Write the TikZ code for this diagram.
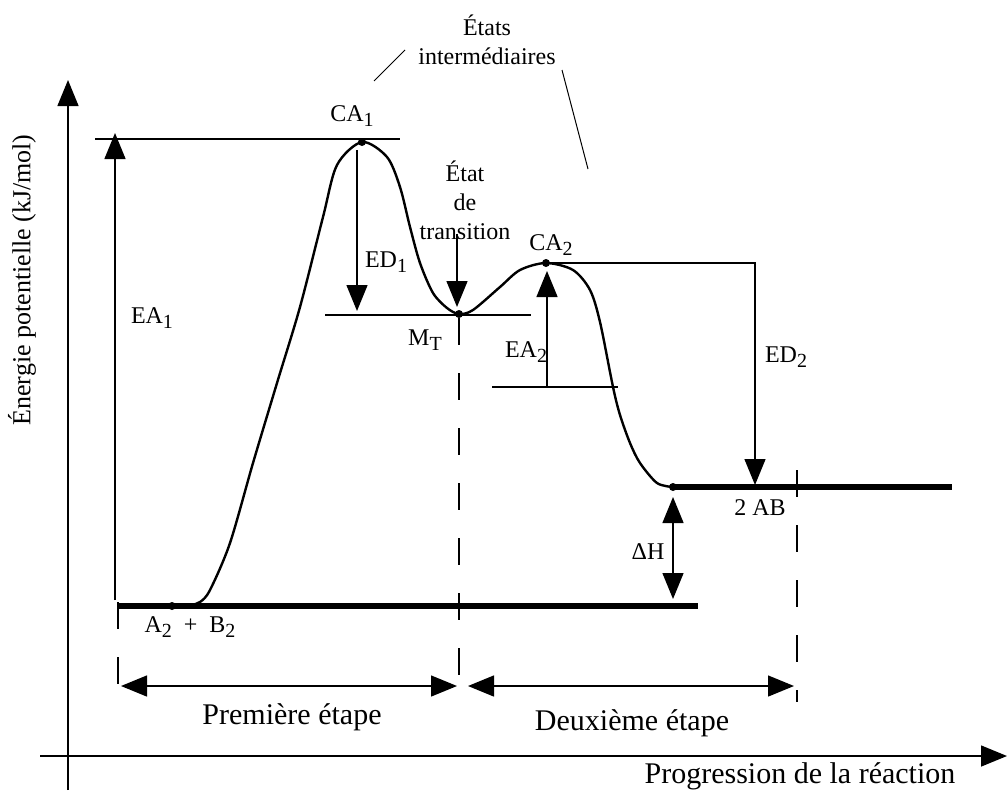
\documentclass[tikz,border=0pt]{standalone}
\usepackage{fontspec}
\setmainfont{Liberation Serif}
\usetikzlibrary{arrows.meta}

\newcommand{\idx}[1]{\raisebox{-0.5ex}{\fontsize{20}{20}\selectfont #1}}

\begin{document}
\begin{tikzpicture}[x=1pt, y=-1pt, >={Triangle[length=26pt,width=21pt]},
    guide/.style={line width=1.4pt},
    level/.style={line width=5.5pt},
    curve/.style={line width=2.4pt, line join=round},
    stepline/.style={line width=1.4pt, dash pattern=on 27pt off 28pt},
    lbl/.style={inner sep=0pt, font=\fontsize{24}{29}\selectfont, align=center},
    biglbl/.style={inner sep=0pt, font=\fontsize{30}{34}\selectfont},
    dot/.style={circle, fill, inner sep=0pt, minimum size=8pt}]
    \useasboundingbox (0,0) rectangle (1008,793);

    % Axes
    \coordinate (yo) at (68,790);
    \coordinate (ytip) at (68,80);
    \coordinate (xo) at (40,756);
    \coordinate (xtip) at (1007,756);
    \draw[guide,->] (yo) -- (ytip);
    \draw[guide,->] (xo) -- (xtip);
    \node[lbl, rotate=90, font=\fontsize{26}{30}\selectfont] (ylab) at (22,280) {Énergie potentielle (kJ/mol)};
    \node[biglbl] (xlab) at (800,776) {Progression de la réaction};

    % Key points of the path
    \coordinate (r) at (172,606);
    \coordinate (ca1) at (362,142);
    \coordinate (mt) at (459,314);
    \coordinate (ca2) at (546,263);
    \coordinate (p) at (673,487);

    % Energy levels
    \coordinate (rl) at (118,606);
    \coordinate (rr) at (698,606);
    \coordinate (pr) at (952,487);
    \draw[level] (rl) -- (rr);
    \draw[level] (p) -- (pr);

    % Reaction path
    \draw[curve] plot[smooth, tension=0.5] coordinates {(r) (190,605) (200,602) (210,590)
        (230,543) (253,463) (277,383) (300,307) (323,217) (337,165) (ca1)
        (387,157) (400,187) (410,227) (420,263) (433,293) (447,308) (mt) (473,310) (500,287)
        (520,270) (ca2) (573,270) (590,290) (600,322) (613,387) (620,415) (630,443) (640,463)
        (657,483) (p)};
    \foreach \pt in {r, ca1, mt, ca2, p}
        \node[dot] at (\pt) {};

    % EA1
    \coordinate (ea1b) at (115,600);
    \coordinate (ea1t) at (115,133);
    \coordinate (top1l) at (95,139);
    \coordinate (top1r) at (400,139);
    \draw[guide,->] (ea1b) -- (ea1t);
    \draw[guide] (top1l) -- (top1r);
    \node[lbl] (ea1) at (152,318) {EA\idx{1}};
    \node[lbl] (ca1lab) at (352,116) {CA\idx{1}};

    % ED1 and intermediate level
    \coordinate (ed1t) at (357,150);
    \coordinate (ed1b) at (357,311);
    \coordinate (mtl) at (325,315);
    \coordinate (mtr) at (531,315);
    \draw[guide,->] (ed1t) -- (ed1b);
    \draw[guide] (mtl) -- (mtr);
    \node[lbl] (ed1) at (386,262) {ED\idx{1}};
    \node[lbl] (mtlab) at (425,340) {M\idx{T}};

    % Transition state
    \node[lbl] (trans) at (465,200) {État\\de\\transition};
    \coordinate (trb) at (457,307);
    \draw[guide,->] (trans.south -| trb) ++(0,-6) -- (trb);

    % Intermediate states
    \node[lbl] (inter) at (487,40) {États\\intermédiaires};
    \coordinate (lead1a) at (374,81);
    \coordinate (lead1b) at (405,50);
    \coordinate (lead2a) at (562,70);
    \coordinate (lead2b) at (588,169);
    \draw[line width=1pt] (lead1a) -- (lead1b);
    \draw[line width=1pt] (lead2a) -- (lead2b);

    % EA2
    \coordinate (ea2b) at (547,387);
    \coordinate (ea2t) at (547,271);
    \coordinate (lv2l) at (492,387);
    \coordinate (lv2r) at (618,387);
    \draw[guide,->] (ea2b) -- (ea2t);
    \draw[guide] (lv2l) -- (lv2r);
    \node[lbl] (ea2) at (526,352) {EA\idx{2}};
    \node[lbl] (ca2lab) at (551,245) {CA\idx{2}};

    % ED2
    \coordinate (ed2c) at (755,263);
    \coordinate (ed2b) at (755,485);
    \draw[guide,->] (ca2) -- (ed2c) -- (ed2b);
    \node[lbl] (ed2) at (786,357) {ED\idx{2}};

    % Delta H
    \coordinate (dht) at (673,497);
    \coordinate (dhb) at (673,599);
    \draw[guide,<->] (dhb) -- (dht);
    \node[lbl] (dh) at (648,552) {ΔH};

    % Species
    \node[lbl] (reac) at (190,627) {A\idx{2}\enspace+\enspace B\idx{2}};
    \node[lbl] (prod) at (760,508) {2 AB};

    % Steps
    \coordinate (s1a) at (118,602);
    \coordinate (s1b) at (118,685);
    \coordinate (s2a) at (459,318);
    \coordinate (s2b) at (459,690);
    \coordinate (s3a) at (797,470);
    \coordinate (s3b) at (797,702);
    \foreach \a/\b in {s1a/s1b, s2a/s2b, s3a/s3b}
        \draw[stepline] (\a) -- (\b);
    \coordinate (e1l) at (121,686);
    \coordinate (e1r) at (457,686);
    \coordinate (e2l) at (468,686);
    \coordinate (e2r) at (794,686);
    \draw[guide,<->] (e1l) -- (e1r);
    \draw[guide,<->] (e2l) -- (e2r);
    \node[biglbl] (step1) at (292,717) {Première étape};
    \node[biglbl] (step2) at (632,723) {Deuxième étape};
\end{tikzpicture}
\end{document}
